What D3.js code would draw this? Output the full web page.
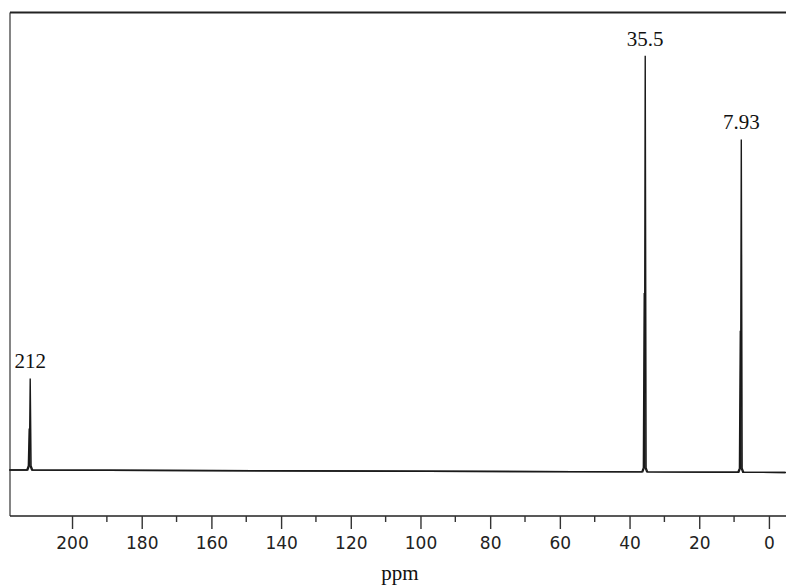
<!DOCTYPE html>
<html>
<head>
<meta charset="utf-8">
<script src="https://cdn.jsdelivr.net/npm/d3@7"></script>
<style>
  body { margin: 0; background: #fff; }
  svg { display: block; }
</style>
</head>
<body>
<div id="chart"></div>
<script>
// chemical shifts (ppm) and relative peak heights
var peakShifts = [212, 35.5, 7.93];
var peakLabels = ["212", "35.5", "7.93"];
var peakHeights = [22, 100, 80];
// darker, doubled lower part of each peak
var innerHeights = [10, 43, 34];
// baseline drift (left edge, each peak, right edge)
var baseLeft = 0, baseRight = -0.6;
var peakBase = [0, -0.45, -0.55];

var majorTicks = [200, 180, 160, 140, 120, 100, 80, 60, 40, 20, 0];
var minorTicks = [190, 170, 150, 130, 110, 90, 70, 50, 30, 10];

var width = 786,
    height = 588;

var x = d3.scaleLinear()
    .domain([217.8, -4.9])
    .range([10, 786]);

var y = d3.scaleLinear()
    .domain([0, 100])
    .range([470, 54]);

var svg = d3.select("#chart").append("svg")
    .attr("width", width)
    .attr("height", height);

// frame: left side, top, bottom axis line
var boxTop = 12.5, boxBottom = 516, boxLeft = 10;
svg.append("line")
    .attr("x1", boxLeft).attr("x2", boxLeft)
    .attr("y1", boxTop).attr("y2", boxBottom)
    .style("stroke", "#333").style("stroke-width", 1.2);
svg.append("line")
    .attr("x1", boxLeft).attr("x2", width)
    .attr("y1", boxTop).attr("y2", boxTop)
    .style("stroke", "#222").style("stroke-width", 2);

// build spectrum trace from peaks
function trace(heights) {
  var pts = [[x.domain()[0], baseLeft]];
  peakShifts.forEach(function(p, i) {
    var b = peakBase[i];
    pts.push([p + 0.7, b], [p + 0.25, b + 1], [p, b + heights[i]], [p - 0.25, b + 1], [p - 0.7, b]);
  });
  pts.push([x.domain()[1], baseRight]);
  return pts;
}

var line = d3.line()
    .x(function(d) { return x(d[0]); })
    .y(function(d) { return y(d[1]); });

svg.append("path")
    .attr("d", line(trace(peakHeights)))
    .style("fill", "none")
    .style("stroke", "#1a1a1a")
    .style("stroke-width", 1.4);

svg.append("path")
    .attr("d", line(trace(innerHeights)))
    .attr("transform", "translate(-1,0)")
    .style("fill", "none")
    .style("stroke", "#1a1a1a")
    .style("stroke-width", 1.4);

// peak labels
svg.selectAll("text.peak")
    .data(peakShifts)
    .enter().append("text")
    .attr("class", "peak")
    .attr("x", function(d) { return x(d); })
    .attr("y", function(d, i) { return y(peakHeights[i] + peakBase[i]) - 10; })
    .attr("text-anchor", "middle")
    .style("font-family", "'Liberation Serif', 'Times New Roman', serif")
    .style("font-size", "21px")
    .style("fill", "#111")
    .text(function(d, i) { return peakLabels[i]; });

// bottom axis
var axis = svg.append("g")
    .attr("transform", "translate(0," + boxBottom + ")");

axis.append("line")
    .attr("x1", boxLeft).attr("x2", width)
    .style("stroke", "#222").style("stroke-width", 1.5);

axis.call(d3.axisBottom(x)
        .tickValues(majorTicks)
        .tickSize(13)
        .tickPadding(8)
        .tickFormat(d3.format("d")))
    .call(function(g) { g.select(".domain").remove(); })
    .selectAll("text")
    .style("font-family", "'DejaVu Sans', sans-serif")
    .style("font-size", "17px")
    .style("fill", "#222");

axis.selectAll(".tick line").style("stroke", "#333").style("stroke-width", 1.4);

axis.selectAll("line.minor")
    .data(minorTicks)
    .enter().append("line")
    .attr("class", "minor")
    .attr("x1", function(d) { return x(d); })
    .attr("x2", function(d) { return x(d); })
    .attr("y1", 0).attr("y2", 6)
    .style("stroke", "#333").style("stroke-width", 1.4);

svg.append("text")
    .attr("x", 400)
    .attr("y", 580)
    .attr("text-anchor", "middle")
    .style("font-family", "'Liberation Serif', 'Times New Roman', serif")
    .style("font-size", "21px")
    .style("fill", "#111")
    .text("ppm");
</script>
</body>
</html>
